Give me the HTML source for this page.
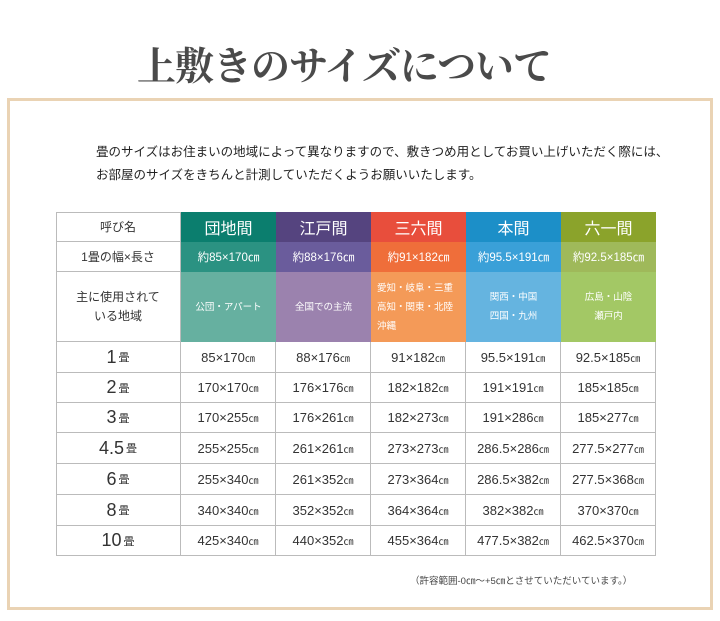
<!DOCTYPE html>
<html><head><meta charset="utf-8"><style>
*{margin:0;padding:0;box-sizing:border-box}
body{width:720px;height:621px;background:#fff;position:relative;overflow:hidden;font-family:"Liberation Sans","Noto Sans CJK JP",sans-serif;color:#333}
.title{position:absolute;left:-16px;width:720px;top:36px;text-align:center;font-family:"Liberation Serif","Noto Serif CJK SC",serif;font-size:39px;font-weight:bold;color:#4a4a4a;letter-spacing:-1px}
.frame{position:absolute;left:7px;top:98px;width:706px;height:512px;border:3px solid #ead3b4}
.intro{position:absolute;left:96px;top:141px;font-size:12.5px;line-height:23px;color:#222}
.c{position:absolute;display:flex;align-items:center;justify-content:center;text-align:center}
.g{border-right:1px solid #bbb;border-bottom:1px solid #bbb}
.note{position:absolute;left:410px;top:573px;font-size:9.5px;color:#444}
</style></head><body>
<div class="title">上敷きのサイズについて</div>
<div class="frame"></div>
<div class="intro">畳のサイズはお住まいの地域によって異なりますので、敷きつめ用としてお買い上げいただく際には、<br>お部屋のサイズをきちんと計測していただくようお願いいたします。</div>
<div style="position:absolute;left:56px;top:212px;width:600px;height:344px;border-left:1px solid #bbb;border-top:1px solid #bbb"></div>
<div id="t"></div>
<div class="note">（許容範囲-0㎝～+5㎝とさせていただいています。）</div>
<script>
var xs=[56,181,276,371,466,561,656];
var ys=[212,242,272,342,373,403,433,464,495,526,556];
var h=[["#0b7e6e","#2b9282","#66b0a0","団地間","約85×170㎝","公団・アパート"],
["#55447f","#6a5c9c","#9b82ae","江戸間","約88×176㎝","全国での主流"],
["#e84e3c","#ef6e3a","#f49a58","三六間","約91×182㎝","愛知・岐阜・三重<br>高知・関東・北陸<br>沖縄"],
["#1c8fc8","#3aa0d8","#65b4e0","本間","約95.5×191㎝","関西・中国<br>四国・九州"],
["#8ba32b","#9fb95a","#a3c865","六一間","約92.5×185㎝","広島・山陰<br>瀬戸内"]];
var rows=[["1","85×170","88×176","91×182","95.5×191","92.5×185"],
["2","170×170","176×176","182×182","191×191","185×185"],
["3","170×255","176×261","182×273","191×286","185×277"],
["4.5","255×255","261×261","273×273","286.5×286","277.5×277"],
["6","255×340","261×352","273×364","286.5×382","277.5×368"],
["8","340×340","352×352","364×364","382×382","370×370"],
["10","425×340","440×352","455×364","477.5×382","462.5×370"]];
var o="";
function cell(x0,x1,y0,y1,st,html,cls){o+='<div class="c '+(cls||'')+'" style="left:'+x0+'px;top:'+y0+'px;width:'+(x1-x0)+'px;height:'+(y1-y0)+'px;'+st+'">'+html+'</div>';}
cell(56,181,212,242,"font-size:12px","呼び名","g");
cell(56,181,242,272,"font-size:12px","1畳の幅×長さ","g");
cell(56,181,272,342,"font-size:12px;line-height:19px","主に使用されて<br>いる地域","g");
for(var i=0;i<5;i++){var c=h[i];
cell(xs[i+1],xs[i+2],212,242,"background:"+c[0]+";color:#fff;font-size:16px",c[3]);
cell(xs[i+1],xs[i+2],242,272,"background:"+c[1]+";color:#fff;font-size:11.5px",c[4]);
cell(xs[i+1],xs[i+2],272,342,"background:"+c[2]+";color:#fff;font-size:9.5px;line-height:19px;"+(i==2?"justify-content:flex-start;text-align:left;padding-left:6px":""),c[5]);}
for(var r=0;r<7;r++){var R=rows[r];
cell(56,181,ys[r+3],ys[r+4],"font-size:18px",R[0]+'<span style="font-size:11px;margin-left:2px">畳</span>',"g");
for(var j=1;j<6;j++)cell(xs[j],xs[j+1],ys[r+3],ys[r+4],"font-size:13px",R[j]+'<span style="font-size:10px">㎝</span>',"g");}
document.getElementById("t").innerHTML=o;
</script>
</body></html>
